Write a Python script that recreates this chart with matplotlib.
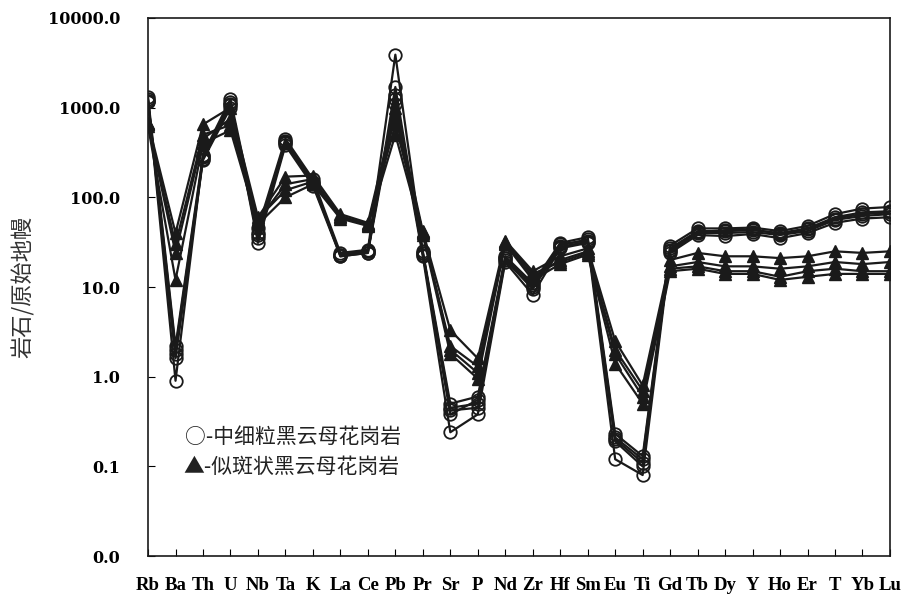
import numpy as np
import matplotlib
matplotlib.use("Agg")
import matplotlib.pyplot as plt

# elements (spider diagram, primitive-mantle normalised)
elements = ["Rb", "Ba", "Th", "U", "Nb", "Ta", "K", "La", "Ce", "Pb", "Pr", "Sr", "P", "Nd",
            "Zr", "Hf", "Sm", "Eu", "Ti", "Gd", "Tb", "Dy", "Y", "Ho", "Er", "T", "Yb", "Lu"]

# 中细粒黑云母花岗岩 (open circles)
c1 = [1300, 2.2, 300, 1250, 45, 450, 160, 24, 26, 3900, 25, 0.50, 0.60, 22, 11, 31, 36, 0.23, 0.13, 29, 45, 45, 46, 42, 48, 65, 75, 78]
c2 = [1200, 2.0, 280, 1100, 40, 420, 150, 22, 24, 1700, 24, 0.45, 0.50, 21, 10, 29, 34, 0.21, 0.12, 27, 42, 42, 43, 40, 45, 60, 68, 70]
c3 = [1150, 1.6, 260, 1000, 35, 400, 140, 23, 25, 1400, 23, 0.42, 0.45, 20, 9.5, 28, 32, 0.20, 0.11, 25, 40, 40, 41, 38, 42, 56, 62, 65]
c4 = [1250, 0.9, 290, 1150, 31, 380, 135, 22, 24, 1100, 22, 0.24, 0.38, 19, 8.2, 27, 31, 0.12, 0.08, 24, 38, 37, 39, 35, 40, 52, 58, 60]
c5 = [1180, 1.8, 270, 1080, 38, 410, 145, 23, 25, 1250, 24, 0.38, 0.55, 21, 10.5, 30, 33, 0.19, 0.10, 26, 41, 43, 44, 39, 44, 58, 65, 68]

# 似斑状黑云母花岗岩 (filled triangles)
t1 = [680, 40, 650, 1000, 60, 170, 175, 65, 52, 1000, 42, 3.3, 1.6, 33, 15, 22, 27, 2.5, 0.80, 20, 24, 22, 22, 21, 22, 25, 24, 25]
t2 = [650, 24, 450, 750, 55, 140, 160, 62, 50, 800, 40, 2.2, 1.3, 31, 13, 20, 25, 2.0, 0.70, 17, 19, 17, 17, 16, 17, 19, 18, 19]
t3 = [620, 12, 400, 560, 50, 100, 140, 58, 48, 500, 38, 1.8, 0.95, 30, 12, 18, 23, 1.4, 0.50, 15, 16, 14, 14, 12, 13, 14, 14, 14]
t4 = [660, 30, 500, 640, 58, 120, 150, 60, 49, 650, 41, 2.0, 1.1, 32, 14, 19, 24, 1.8, 0.60, 16, 17, 15, 15, 13, 15, 16, 15, 15]

yticks = [0.01, 0.1, 1, 10, 100, 1000, 10000]
ytick_labels = ["0.0", "0.1", "1.0", "10.0", "100.0", "1000.0", "10000.0"]

x = np.arange(len(elements))

fig = plt.figure(figsize=(9.06, 5.96), dpi=100)
ax = fig.add_axes([0.1634, 0.0671, 0.8189, 0.9027])

for s in [c1, c2, c3, c4, c5]:
    ax.plot(x, s, color="#1a1a1a", lw=1.6, marker="o", ms=9,
            mfc="none", mec="#1a1a1a", mew=1.3)
for s in [t1, t2, t3, t4]:
    ax.plot(x, s, color="#1a1a1a", lw=1.6, marker="^", ms=9,
            mfc="#1a1a1a", mec="#1a1a1a")

ax.set_yscale("log")
ax.set_ylim(0.01, 10000)
ax.set_xlim(0, len(elements) - 1)
ax.set_yticks(yticks)
ax.set_yticklabels(ytick_labels, fontfamily="DejaVu Serif", fontweight="bold", fontsize=11.5)
ax.yaxis.set_minor_locator(matplotlib.ticker.NullLocator())
ax.set_xticks(x)
ax.set_xticklabels(elements, fontfamily="Liberation Serif", fontweight="bold", fontsize=13.5)
ax.tick_params(axis="y", direction="in", length=5, width=0.8, pad=20)
ax.tick_params(axis="x", direction="in", length=5, width=0.8, pad=15)

for sp in ax.spines.values():
    sp.set_linewidth(1.2)
    sp.set_color("#1a1a1a")

cjk = ["Noto Sans CJK SC", "DejaVu Sans"]
ax.set_ylabel("岩石/原始地幔", fontfamily=cjk, fontsize=16, color="#333333")
ax.yaxis.set_label_coords(-0.153, 0.5)

ax.text(0.05, 0.222, "○-中细粒黑云母花岗岩", transform=ax.transAxes, ha="left", va="center",
        fontfamily=cjk, fontsize=15, color="#222222")
ax.text(0.048, 0.166, "▲-似斑状黑云母花岗岩", transform=ax.transAxes, ha="left", va="center",
        fontfamily=cjk, fontsize=15, color="#222222")

fig.savefig("out.png", dpi=100)
